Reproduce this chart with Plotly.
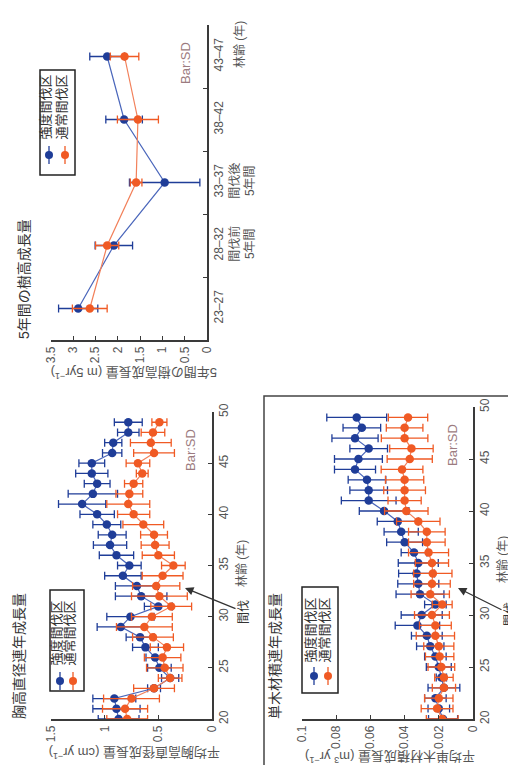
import plotly.graph_objects as go

W, H = 516, 765
FONT = "Liberation Sans, Noto Sans CJK JP, sans-serif"

# ---------------- data ----------------
ages = list(range(20, 50))

dbh_strong = [0.87, 0.89, 0.91, 0.54, 0.39, 0.49, 0.53, 0.62, 0.67, 0.85,
              0.76, 0.50, 0.66, 0.70, 0.83, 0.77, 0.89, 0.95, 0.93, 0.98,
              1.07, 1.21, 1.11, 1.07, 1.12, 1.12, 0.93, 0.92, 0.78, 0.78]
dbh_strong_sd = [0.19, 0.22, 0.20, 0.06, 0.08, 0.11, 0.085, 0.12, 0.13, 0.22,
                 0.22, 0.13, 0.24, 0.20, 0.17, 0.11, 0.16, 0.155, 0.13, 0.13,
                 0.16, 0.22, 0.23, 0.12, 0.15, 0.12, 0.09, 0.08, 0.10, 0.13]
dbh_normal = [0.79, 0.81, 0.75, 0.54, 0.39, 0.44, 0.46, 0.42, 0.55, 0.63,
              0.56, 0.38, 0.49, 0.52, 0.46, 0.36, 0.50, 0.53, 0.54, 0.64,
              0.73, 0.78, 0.77, 0.73, 0.65, 0.69, 0.54, 0.57, 0.55, 0.49]
dbh_normal_sd = [0.19, 0.21, 0.26, 0.19, 0.11, 0.17, 0.17, 0.155, 0.19, 0.26,
                 0.19, 0.19, 0.26, 0.22, 0.19, 0.11, 0.15, 0.13, 0.125, 0.19,
                 0.15, 0.20, 0.125, 0.085, 0.055, 0.11, 0.19, 0.19, 0.11, 0.07]

vol_strong = [0.0175, 0.020, 0.022, 0.017, 0.0185, 0.020, 0.022, 0.025, 0.027, 0.0325,
              0.030, 0.022, 0.031, 0.032, 0.033, 0.032, 0.0345, 0.040, 0.042, 0.044,
              0.052, 0.061, 0.061, 0.062, 0.069, 0.067, 0.061, 0.069, 0.065, 0.068]
vol_strong_sd = [0.0085, 0.0063, 0.0063, 0.0093, 0.003, 0.0073, 0.0063, 0.008, 0.009, 0.013,
                 0.012, 0.0063, 0.014, 0.012, 0.0105, 0.0117, 0.0075, 0.0105, 0.010, 0.012,
                 0.0145, 0.016, 0.011, 0.011, 0.012, 0.014, 0.011, 0.0135, 0.011, 0.0175]
vol_normal = [0.018, 0.021, 0.020, 0.017, 0.017, 0.0185, 0.0195, 0.020, 0.022, 0.022,
              0.024, 0.018, 0.025, 0.024, 0.0235, 0.024, 0.026, 0.027, 0.027, 0.032,
              0.039, 0.040, 0.040, 0.040, 0.0415, 0.037, 0.036, 0.040, 0.040, 0.038]
vol_normal_sd = [0.0093, 0.0093, 0.0083, 0.0068, 0.0054, 0.0078, 0.0083, 0.0088, 0.0112, 0.0093,
                 0.0102, 0.0058, 0.0112, 0.0107, 0.0112, 0.0097, 0.0117, 0.0107, 0.0107, 0.0127,
                 0.0127, 0.0097, 0.0122, 0.0112, 0.0122, 0.0132, 0.0127, 0.0136, 0.0107, 0.0115]

periods = ["23–27", "28–32", "33–37", "38–42", "43–47"]
period_labels = ["23–27", "28–32<br>間伐前<br>5年間", "33–37<br>間伐後<br>5年間", "38–42", "43–47"]
ht_strong = [2.89, 2.09, 0.95, 1.86, 2.24]
ht_strong_sd = [0.44, 0.42, 0.79, 0.41, 0.39]
ht_normal = [2.63, 2.24, 1.59, 1.55, 1.85]
ht_normal_sd = [0.39, 0.26, 0.13, 0.46, 0.32]

dbh_ticks = [0, 0.5, 1, 1.5]
vol_ticks = [0, 0.02, 0.04, 0.06, 0.08, 0.1]
ht_ticks = [0, 0.5, 1, 1.5, 2, 2.5, 3, 3.5]
age_ticks = [20, 25, 30, 35, 40, 45, 50]

# ---------------- style ----------------
BLUE = "#1f3d98"
BLUE_LINE = "#4a66bb"
ORANGE = "#f05a24"
ORANGE_LINE = "#f2805a"
AXC = "#3a3a3a"
TXT = "#555555"
SDC = "#9c7b80"


def px(x):
    return x / W


def py(y):
    return 1 - y / H


fig = go.Figure()


def add_series(xv, sd, yv, color, lcolor, xa, ya, name):
    fig.add_trace(go.Scatter(
        x=xv, y=yv, mode="lines+markers", name=name, showlegend=False,
        xaxis=xa, yaxis=ya,
        line=dict(color=lcolor, width=1.2),
        marker=dict(color=color, size=8.5),
        error_x=dict(type="data", array=sd, visible=True, color=color,
                     thickness=1.3, width=4),
    ))


add_series(dbh_strong, dbh_strong_sd, ages, BLUE, BLUE_LINE, "x", "y", "強度間伐区")
add_series(dbh_normal, dbh_normal_sd, ages, ORANGE, ORANGE_LINE, "x", "y", "通常間伐区")
add_series(vol_strong, vol_strong_sd, ages, BLUE, BLUE_LINE, "x2", "y2", "強度間伐区")
add_series(vol_normal, vol_normal_sd, ages, ORANGE, ORANGE_LINE, "x2", "y2", "通常間伐区")
add_series(ht_strong, ht_strong_sd, periods, BLUE, BLUE_LINE, "x3", "y3", "強度間伐区")
add_series(ht_normal, ht_normal_sd, periods, ORANGE, ORANGE_LINE, "x3", "y3", "通常間伐区")

common_val = dict(showline=True, linecolor=AXC, linewidth=1.5, ticks="inside",
                  ticklen=4, tickcolor=AXC, tickwidth=1.3, showgrid=False,
                  zeroline=False, tickangle=-90, automargin=False,
                  tickfont=dict(size=12, color=TXT, family=FONT), side="bottom")
common_age = dict(showline=True, linecolor=AXC, linewidth=1.5, ticks="inside",
                  ticklen=4, tickcolor=AXC, tickwidth=1.3, showgrid=False,
                  zeroline=False, tickangle=-90, automargin=False, side="right",
                  tickfont=dict(size=12, color=TXT, family=FONT))

fig.update_layout(
    width=W, height=H, margin=dict(l=0, r=0, t=0, b=0),
    paper_bgcolor="white", plot_bgcolor="white", template="none",
    font=dict(family=FONT, color=TXT),
    xaxis=dict(common_val, domain=[px(43), px(204)], range=[1.5, 0], anchor="y",
               tickvals=dbh_ticks, ticktext=[f"{v:g}" for v in dbh_ticks]),
    yaxis=dict(common_age, domain=[py(711), py(404)], range=[20, 50], anchor="x",
               tickvals=age_ticks),
    xaxis2=dict(common_val, domain=[px(294), px(465)], range=[0.1, 0], anchor="y2",
                tickvals=vol_ticks, ticktext=[f"{v:g}" for v in vol_ticks]),
    yaxis2=dict(common_age, domain=[py(711), py(399)], range=[20, 50], anchor="x2",
                tickvals=age_ticks),
    xaxis3=dict(common_val, domain=[px(43), px(199)], range=[3.5, 0], anchor="y3",
                tickvals=ht_ticks, ticktext=[f"{v:g}" for v in ht_ticks]),
    yaxis3=dict(common_age, domain=[py(332), py(17)], range=[-0.5, 4.5], anchor="x3",
                type="category", categoryorder="array", categoryarray=periods,
                tickvals=periods, ticktext=period_labels, tickson="boundaries"),
)

ann = []


def text(x, y, s, angle=-90, size=12, color=TXT, xa="center", ya="middle"):
    # small empirical correction for rotated text placement
    if angle == -90:
        x -= 4
    elif angle == 180:
        y -= 6
    ann.append(dict(x=px(x), y=py(y), xref="paper", yref="paper", text=s,
                    textangle=angle, showarrow=False, xanchor=xa, yanchor=ya,
                    font=dict(size=size, color=color, family=FONT)))


# panel titles
text(15, 713, "胸高直径連年成長量", size=14, color="#333333", ya="bottom")
text(20, 333, "5年間の樹高成長量", size=14, color="#333333", ya="bottom")
text(271, 713, "単木材積連年成長量", size=14, color="#333333", ya="bottom")

# value axis titles (upside down)
text(127, 751, "平均胸高直径成長量 (cm yr<sup>−1</sup>)", angle=180, size=13)
text(382, 755, "平均単木材積成長量 (m<sup>3</sup> yr<sup>−1</sup>)", angle=180, size=13)
text(126, 371, "5年間の樹高成長量 (m 5yr<sup>−1</sup>)", angle=180, size=13)

# age axis titles
text(238, 556, "林齢 (年)", size=12)
text(499, 552, "林齢 (年)", size=12)
text(236, 37, "林齢 (年)", size=12)

# Bar:SD
text(187, 442, "Bar:SD", size=13, color=SDC)
text(448, 437, "Bar:SD", size=13, color=SDC)
text(182, 55, "Bar:SD", size=13, color=SDC)

# thinning arrows
for hx, hy, tx, ty in [(177, 580, 236, 604), (450, 580, 502, 606)]:
    ann.append(dict(x=px(hx), y=py(hy), xref="paper", yref="paper", text="間伐",
                    textangle=-90, showarrow=True, arrowhead=2, arrowsize=1.3,
                    arrowwidth=1.3, arrowcolor="#333333",
                    ax=tx - hx, ay=ty - hy,
                    font=dict(size=12, color="#333333", family=FONT)))

shapes = []


def legend(x0, x1, y0, y1, xb, xo, ym, ytext):
    shapes.append(dict(type="rect", xref="paper", yref="paper",
                       x0=px(x0), x1=px(x1), y0=py(y1), y1=py(y0),
                       line=dict(color="#222222", width=1.5)))
    for xc, col, lab in [(xb, BLUE, "強度間伐区"), (xo, ORANGE, "通常間伐区")]:
        shapes.append(dict(type="line", xref="paper", yref="paper",
                           x0=px(xc), x1=px(xc), y0=py(ym + 9), y1=py(ym - 9),
                           line=dict(color=col, width=1.3)))
        shapes.append(dict(type="circle", xref="paper", yref="paper",
                           xsizemode="pixel", ysizemode="pixel",
                           xanchor=px(xc), yanchor=py(ym),
                           x0=-4, x1=4, y0=-4, y1=4,
                           fillcolor=col, line=dict(color=col, width=0)))
        text(xc, ytext, lab, size=13, color="#333333", ya="bottom")


legend(42, 76, 582, 683, 52, 65, 673, 660)
legend(294, 330, 579, 685, 306, 320, 668, 657)
legend(32, 67, 62, 167, 41, 57, 147, 134)

# frame around the volume panel
shapes.append(dict(type="rect", xref="paper", yref="paper",
                   x0=px(256), x1=px(520), y0=py(770), y1=py(388),
                   line=dict(color="#444444", width=1.5)))

fig.update_layout(annotations=ann, shapes=shapes)
fig.write_html("out.html")
